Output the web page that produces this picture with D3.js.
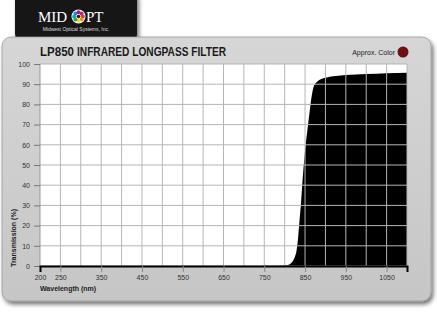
<!DOCTYPE html>
<html>
<head>
<meta charset="utf-8">
<script src="https://cdn.jsdelivr.net/npm/d3@7"></script>
<style>
  body { margin: 0; background: #fff; }
  svg { display: block; font-family: "Liberation Sans", Arial, sans-serif; }
</style>
</head>
<body>
<svg id="chart" width="437" height="314"></svg>
<script>
// transmission curve
const wavelengths = [200, 300, 400, 500, 600, 700, 780, 800, 810, 815, 820, 825, 829, 833, 837, 840, 843, 846, 849, 852, 855, 858, 861, 864, 867, 870, 874, 878, 884, 890, 903, 925, 950, 1000, 1050, 1100];
const transmission = [0, 0, 0, 0, 0, 0, 0.1, 0.2, 0.6, 1.2, 2.5, 4.5, 7.4, 14, 24, 31, 40, 48, 55, 61, 66, 71, 76, 81, 85, 88, 90, 91, 92, 92.6, 93.3, 94, 94.5, 95, 95.4, 95.7];
const xTickLabels = [200, 250, 350, 450, 550, 650, 750, 850, 950, 1050];
const xGrid = d3.range(250, 1101, 50);
const yTicks = d3.range(0, 101, 10);

const svg = d3.select("#chart");
const margin = { top: 64, right: 30, bottom: 48, left: 40 };
const plotW = 407 - margin.left;
const plotH = 266 - margin.top;

// card background with shadow
const defs = svg.append("defs");
const f = defs.append("filter").attr("id", "shadow").attr("x", "-5%").attr("y", "-5%").attr("width", "115%").attr("height", "120%");
f.append("feDropShadow").attr("dx", 2).attr("dy", 3).attr("stdDeviation", 2).attr("flood-color", "#000").attr("flood-opacity", 0.55);
const cardGrad = defs.append("linearGradient").attr("id", "cardGrad").attr("x1", 0).attr("y1", 0).attr("x2", 0).attr("y2", 1);
cardGrad.append("stop").attr("offset", "0%").attr("stop-color", "#d6d6d6");
cardGrad.append("stop").attr("offset", "100%").attr("stop-color", "#c6c6c6");

// logo tab
svg.append("rect")
    .attr("x", 15).attr("y", -10).attr("width", 122).attr("height", 52).attr("rx", 8)
    .attr("fill", "#151515").attr("filter", "url(#shadow)");

svg.append("rect")
    .attr("x", 2).attr("y", 37).attr("width", 429).attr("height", 264).attr("rx", 9)
    .attr("fill", "url(#cardGrad)").attr("stroke", "#9a9a9a").attr("stroke-width", 0.8)
    .attr("filter", "url(#shadow)");

svg.append("text").attr("x", 38).attr("y", 22)
    .attr("font-family", "'Liberation Serif', 'DejaVu Serif', serif")
    .attr("font-size", 15).attr("fill", "#fff").text("MID");
svg.append("text").attr("x", 86).attr("y", 22)
    .attr("font-family", "'Liberation Serif', 'DejaVu Serif', serif")
    .attr("font-size", 15).attr("fill", "#fff").text("PT");
// colour wheel "O"
const wheelColors = ["#e53935", "#fb8c00", "#fdd835", "#43a047", "#00acc1", "#1e88e5", "#8e24aa", "#d81b60"];
const wheel = svg.append("g").attr("transform", "translate(78.5,16.5)");
wheel.append("circle").attr("r", 7).attr("fill", "#fff");
wheel.selectAll("circle.dot").data(wheelColors).join("circle")
    .attr("class", "dot")
    .attr("cx", (d, i) => 4.3 * Math.cos(i * Math.PI / 4))
    .attr("cy", (d, i) => 4.3 * Math.sin(i * Math.PI / 4))
    .attr("r", 2).attr("fill", d => d);
wheel.append("circle").attr("r", 1.8).attr("fill", "#222");
svg.append("text").attr("x", 76).attr("y", 31).attr("text-anchor", "middle")
    .attr("font-size", 5).attr("fill", "#ddd").text("Midwest Optical Systems, Inc.");

// title
svg.append("text").attr("x", 40).attr("y", 56).attr("font-size", 12.5)
    .attr("font-weight", 900).attr("fill", "#1a1a1a")
    .attr("textLength", 34).attr("lengthAdjust", "spacingAndGlyphs")
    .text("LP850");
svg.append("text").attr("x", 77).attr("y", 56).attr("font-size", 12.5)
    .attr("font-weight", "bold").attr("fill", "#1a1a1a")
    .attr("textLength", 149).attr("lengthAdjust", "spacingAndGlyphs")
    .text("INFRARED LONGPASS FILTER");

svg.append("text").attr("x", 395).attr("y", 55).attr("text-anchor", "end")
    .attr("font-size", 7).attr("fill", "#222").text("Approx. Color");
svg.append("circle").attr("cx", 403).attr("cy", 52).attr("r", 5.5).attr("fill", "#6e0f12");

const x = d3.scaleLinear().domain([200, 1100]).range([0, plotW]);
const y = d3.scaleLinear().domain([0, 100]).range([plotH, 0]);

const g = svg.append("g").attr("transform", `translate(${margin.left},${margin.top})`);

g.append("rect").attr("width", plotW).attr("height", plotH).attr("fill", "#fff");

const data = wavelengths.map((w, i) => ({ w, t: transmission[i] }));
g.append("path")
    .datum(data)
    .attr("fill", "#000")
    .attr("d", d3.area().x(d => x(d.w)).y0(plotH).y1(d => y(d.t)).curve(d3.curveMonotoneX));

// grid
g.selectAll("line.vgrid").data(xGrid).join("line")
    .attr("class", "vgrid")
    .attr("x1", d => x(d)).attr("x2", d => x(d))
    .attr("y1", 0).attr("y2", plotH)
    .attr("stroke", "#b5b5b5").attr("stroke-width", 1);
g.selectAll("line.hgrid").data(yTicks).join("line")
    .attr("class", "hgrid")
    .attr("x1", 0).attr("x2", plotW)
    .attr("y1", d => y(d)).attr("y2", d => y(d))
    .attr("stroke", "#b5b5b5").attr("stroke-width", 1);
g.append("line").attr("x1", 0).attr("x2", 0).attr("y1", 0).attr("y2", plotH)
    .attr("stroke", "#999");

// y axis
const yAxis = g.append("g")
    .call(d3.axisLeft(y).tickValues(yTicks).tickSize(6).tickPadding(4));
yAxis.select(".domain").remove();
yAxis.selectAll("line").attr("stroke", "#777");
yAxis.selectAll("text").attr("font-size", 7).attr("fill", "#333").attr("font-family", "'Liberation Sans', Arial, sans-serif");

// x axis
const xAxis = g.append("g")
    .attr("transform", `translate(0,${plotH})`)
    .call(d3.axisBottom(x).tickValues(xTickLabels).tickFormat(d3.format("d")).tickSize(6).tickPadding(3));
xAxis.select(".domain").attr("stroke", "#000").attr("stroke-width", 2);
xAxis.selectAll(".tick line").attr("stroke", "#888");
xAxis.selectAll(".tick").filter(d => d === 200).select("line").remove();
xAxis.selectAll("text").attr("font-size", 7).attr("fill", "#333").attr("font-family", "'Liberation Sans', Arial, sans-serif");

svg.append("text").attr("x", 40).attr("y", 291)
    .attr("font-size", 7).attr("font-weight", "bold").attr("fill", "#222")
    .text("Wavelength (nm)");
svg.append("text")
    .attr("transform", "translate(16,267) rotate(-90)")
    .attr("font-size", 7).attr("font-weight", "bold").attr("fill", "#222")
    .text("Transmission (%)");
</script>
</body>
</html>
